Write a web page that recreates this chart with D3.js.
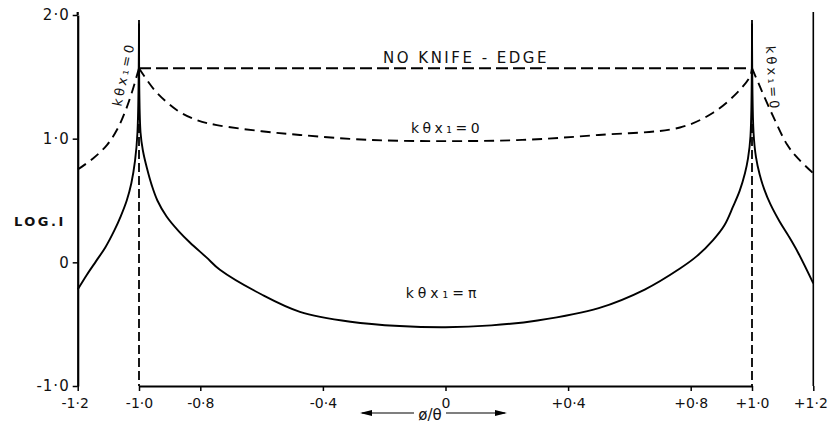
<!DOCTYPE html>
<html>
<head>
<meta charset="utf-8">
<script src="https://cdn.jsdelivr.net/npm/d3@7"></script>
<style>
  body { margin: 0; background: #fff; }
  text { font-family: "DejaVu Sans", sans-serif; fill: #111; }
</style>
</head>
<body>
<div id="chart"></div>
<script>
// x values are phi/theta, y values are log I
var xTicks = [-1.2, -1.0, -0.8, -0.4, 0, 0.4, 0.8, 1.0, 1.2];
var yTicks = [-1, 0, 1, 2];

// k theta x1 = pi (solid)
var piPhi = [-1.2, -1.17, -1.14, -1.11, -1.08, -1.06, -1.04, -1.025, -1.013, -1.005, -1.0,
             -0.995, -0.987, -0.974, -0.958, -0.94, -0.91, -0.87, -0.834, -0.78, -0.736,
             -0.6, -0.475, -0.31, -0.15, 0, 0.15, 0.3, 0.5, 0.65,
             0.765, 0.82, 0.873, 0.91, 0.938, 0.96, 0.977, 0.987, 0.995, 1.0,
             1.005, 1.013, 1.025, 1.04, 1.06, 1.09, 1.12, 1.15, 1.2];
var piLog = [-0.22, -0.10, 0.01, 0.12, 0.26, 0.37, 0.50, 0.64, 0.82, 1.05, 1.93,
             1.05, 0.9, 0.76, 0.62, 0.5, 0.37, 0.25, 0.16, 0.04, -0.06,
             -0.26, -0.40, -0.48, -0.515, -0.525, -0.51, -0.47, -0.37, -0.22,
             -0.05, 0.05, 0.18, 0.3, 0.45, 0.58, 0.72, 0.84, 1.02, 1.93,
             1.05, 0.85, 0.71, 0.59, 0.47, 0.33, 0.21, 0.08, -0.17];

// k theta x1 = 0 (dashed)
var zeroPhi = [-1.2, -1.15, -1.104, -1.07, -1.045, -1.025, -1.0,
               -0.97, -0.941, -0.876, -0.811, -0.746, -0.6, -0.475, -0.25,
               0, 0.25, 0.5, 0.765, 0.873, 0.951, 0.993, 1.0,
               1.026, 1.069, 1.115, 1.15, 1.2];
var zeroLog = [0.75, 0.84, 0.95, 1.08, 1.22, 1.36, 1.57,
               1.46, 1.37, 1.23, 1.15, 1.11, 1.06, 1.03, 0.99,
               0.98, 0.99, 1.03, 1.09, 1.21, 1.37, 1.5, 1.57,
               1.42, 1.18, 0.95, 0.84, 0.72];

// no knife-edge level
var noEdgePhi = [-1.0, 1.0];
var noEdgeLog = [1.57, 1.57];

var width = 828, height = 441;
var svg = d3.select("#chart").append("svg").attr("width", width).attr("height", height);

var x = d3.scaleLinear().domain([-1, 1]).range([139, 752]);
var y = d3.scaleLinear().domain([-1, 2]).range([386, 15]);

function fmt(d) {
    if (d === 0) return "0";
    var s = Math.abs(d).toFixed(1).replace(".", "\u00b7");
    return (d < 0 ? "-" : "+") + s;
}

// axes
var xAxis = d3.axisBottom(x).tickValues(xTicks).tickSize(5).tickSizeOuter(0).tickFormat(fmt);
var gx = svg.append("g").attr("transform", "translate(0," + y(-1) + ")").call(xAxis);
gx.select(".domain").attr("stroke-width", 2.2);
gx.selectAll(".tick line").attr("stroke-width", 1.5);
gx.selectAll(".tick text").attr("dy", "1.0em").style("font-size", "14px")
    .attr("dx", function (d) { return d === 1.2 ? -3 : (d === -1.2 ? -3 : 0); });

var yAxis = d3.axisLeft(y).tickValues(yTicks).tickSize(5).tickSizeOuter(0)
    .tickFormat(function (d) { return d === 0 ? "0" : (d < 0 ? "-" : "") + Math.abs(d).toFixed(1).replace(".", "\u00b7"); });
var gy = svg.append("g").attr("transform", "translate(" + x(-1.2) + ",0)").call(yAxis);
gy.select(".domain").attr("stroke-width", 2.2);
gy.selectAll(".tick line").attr("stroke-width", 1.5);
gy.selectAll(".tick text").style("font-size", "15px").style("letter-spacing", "1px");

// top stub of left axis and right frame line
svg.append("line").attr("x1", x(-1.2)).attr("x2", x(-1.2)).attr("y1", y(2) - 3).attr("y2", y(2))
    .attr("stroke", "#000").attr("stroke-width", 2.2);
svg.append("line").attr("x1", x(1.2)).attr("x2", x(1.2)).attr("y1", y(2) - 3).attr("y2", y(-1))
    .attr("stroke", "#000").attr("stroke-width", 1.6);

// vertical dashed lines at +-1
[-1, 1].forEach(function (v) {
    svg.append("line").attr("x1", x(v)).attr("x2", x(v)).attr("y1", y(1.96)).attr("y2", y(-1))
        .attr("stroke", "#000").attr("stroke-width", 1.8).attr("stroke-dasharray", "9,4");
});

// split a series at the cusps (x = +-1) so the spikes stay sharp
function segments(xs, ys) {
    var segs = [], cur = [];
    for (var i = 0; i < xs.length; i++) {
        cur.push([xs[i], ys[i]]);
        if (Math.abs(Math.abs(xs[i]) - 1) < 1e-9 && i > 0 && i < xs.length - 1) {
            segs.push(cur);
            cur = [[xs[i], ys[i]]];
        }
    }
    segs.push(cur);
    return segs;
}

var line = d3.line().x(function (d) { return x(d[0]); }).y(function (d) { return y(d[1]); })
    .curve(d3.curveCatmullRom.alpha(0.5));

segments(piPhi, piLog).forEach(function (s) {
    svg.append("path").attr("d", line(s)).attr("fill", "none").attr("stroke", "#000").attr("stroke-width", 1.9);
});
segments(zeroPhi, zeroLog).forEach(function (s) {
    svg.append("path").attr("d", line(s)).attr("fill", "none").attr("stroke", "#000")
        .attr("stroke-width", 1.9).attr("stroke-dasharray", "10,6");
});
svg.append("path").attr("d", line(noEdgePhi.map(function (d, i) { return [d, noEdgeLog[i]]; })))
    .attr("fill", "none").attr("stroke", "#000").attr("stroke-width", 1.9).attr("stroke-dasharray", "12,5");

// labels
svg.append("text").text("NO KNIFE - EDGE").attr("x", 466).attr("y", 63).attr("text-anchor", "middle")
    .style("font-size", "15px").style("letter-spacing", "2.5px");
svg.append("text").text("k\u03b8x\u2081=0").attr("x", 447).attr("y", 133).attr("text-anchor", "middle")
    .style("font-size", "14px").style("letter-spacing", "3.5px");
svg.append("text").text("k\u03b8x\u2081=\u03c0").attr("x", 443).attr("y", 298).attr("text-anchor", "middle")
    .style("font-size", "14px").style("letter-spacing", "4px");
svg.append("text").text("k\u03b8x\u2081=0").attr("text-anchor", "middle")
    .attr("transform", "translate(128,75) rotate(-78)")
    .style("font-size", "13px").style("letter-spacing", "3px");
svg.append("text").text("k\u03b8x\u2081=0").attr("text-anchor", "middle")
    .attr("transform", "translate(768,79) rotate(86)")
    .style("font-size", "13px").style("letter-spacing", "3px");
svg.append("text").text("LOG.I").attr("x", 14).attr("y", 226).style("font-size", "13px")
    .style("font-weight", "bold").style("letter-spacing", "2.5px");

// x axis label with arrows
svg.append("text").text("\u00f8/\u03b8").attr("x", 430).attr("y", 420).attr("text-anchor", "middle")
    .style("font-size", "15px");
svg.append("line").attr("x1", 362).attr("x2", 414).attr("y1", 413).attr("y2", 413).attr("stroke", "#000").attr("stroke-width", 1.2);
svg.append("line").attr("x1", 446).attr("x2", 505).attr("y1", 413).attr("y2", 413).attr("stroke", "#000").attr("stroke-width", 1.2);
svg.append("path").attr("d", "M360,413 L372,410 L372,416 Z").attr("fill", "#000");
svg.append("path").attr("d", "M507,413 L495,410 L495,416 Z").attr("fill", "#000");
</script>
</body>
</html>
